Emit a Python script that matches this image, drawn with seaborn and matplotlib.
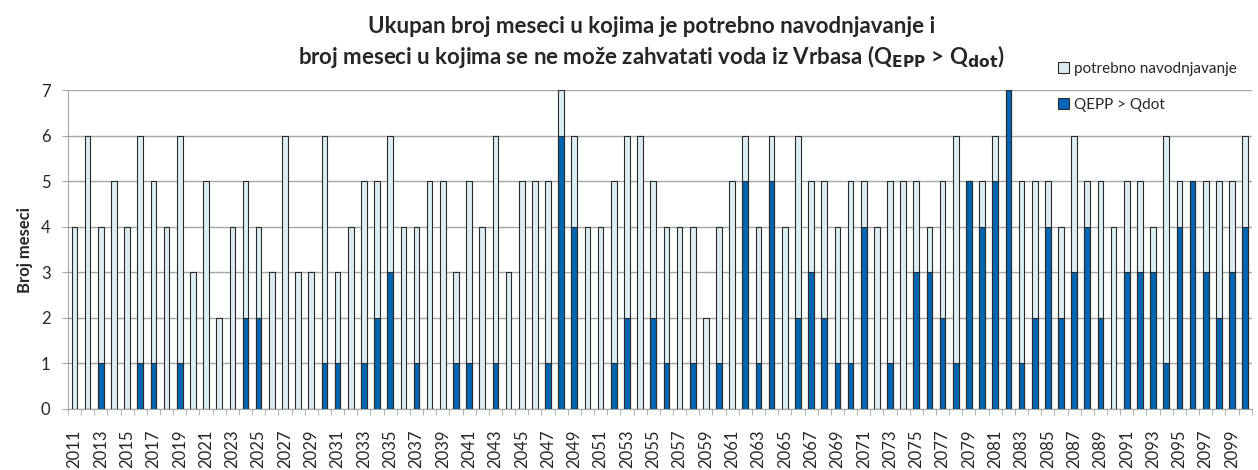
import pandas as pd
import seaborn as sns
import matplotlib.pyplot as plt
from matplotlib.patches import Patch
from matplotlib.ticker import FixedLocator

years = list(range(2011, 2101))

# ukupan broj meseci sa potrebom za navodnjavanjem
potrebno = [4, 6, 4, 5, 4, 6, 5, 4, 6, 3,
            5, 2, 4, 5, 4, 3, 6, 3, 3, 6,
            3, 4, 5, 5, 6, 4, 4, 5, 5, 3,
            5, 4, 6, 3, 5, 5, 5, 7, 6, 4,
            4, 5, 6, 6, 5, 4, 4, 4, 2, 4,
            5, 6, 4, 6, 4, 6, 5, 5, 4, 5,
            5, 4, 5, 5, 5, 4, 5, 6, 5, 5,
            6, 7, 5, 5, 5, 4, 6, 5, 5, 4,
            5, 5, 4, 6, 5, 5, 5, 5, 5, 6]

# broj meseci kada je QEPP > Qdot
qepp = [0, 0, 1, 0, 0, 1, 1, 0, 1, 0,
        0, 0, 0, 2, 2, 0, 0, 0, 0, 1,
        1, 0, 1, 2, 3, 0, 1, 0, 0, 1,
        1, 0, 1, 0, 0, 0, 1, 6, 4, 0,
        0, 1, 2, 0, 2, 1, 0, 1, 0, 1,
        0, 5, 1, 5, 0, 2, 3, 2, 1, 1,
        4, 0, 1, 0, 3, 3, 2, 1, 5, 4,
        5, 7, 1, 2, 4, 2, 3, 4, 2, 0,
        3, 3, 3, 1, 4, 5, 3, 2, 3, 4]

df = pd.DataFrame({'godina': [str(y) for y in years],
                   'potrebno': potrebno, 'qepp': qepp})

light = '#daeef4'
blue = '#0066b3'
edge = '#2a2a2a'

sns.set_style("white")
plt.rcParams['font.family'] = ['Lato', 'DejaVu Sans']

fig, ax = plt.subplots(figsize=(12.58, 4.70), dpi=100)
fig.subplots_adjust(left=0.054, right=0.995, top=0.808, bottom=0.13)

sns.barplot(data=df, x='godina', y='potrebno', color=light, width=0.43,
            edgecolor=edge, linewidth=0.8, saturation=1, ax=ax, zorder=2)
sns.barplot(data=df, x='godina', y='qepp', color=blue, width=0.43,
            edgecolor=edge, linewidth=0.8, saturation=1, ax=ax, zorder=3)

ax.set_ylim(0, 7)
ax.set_xlim(-0.5, len(years) - 0.5)
ax.set_yticks(range(0, 8))
ax.yaxis.grid(True, color='#a6a6a6', linewidth=1, zorder=0)
ax.set_axisbelow(True)

ax.xaxis.set_major_locator(FixedLocator(list(range(0, len(years), 2))))
ax.set_xticklabels([str(y) for y in years[::2]], rotation=90, fontsize=12)
ax.xaxis.set_minor_locator(FixedLocator([i - 0.5 for i in range(len(years) + 1)]))
ax.tick_params(axis='x', which='major', length=0, pad=15)
ax.tick_params(axis='x', which='minor', length=4.5, color='#a6a6a6', bottom=True)
ax.tick_params(axis='y', labelsize=12, length=4.5, color='#a6a6a6', left=True, pad=8)

for s in ['top', 'right']:
    ax.spines[s].set_visible(False)
for s in ['left', 'bottom']:
    ax.spines[s].set_color('#a6a6a6')

ax.set_xlabel('')
ax.set_ylabel('Broj meseci', fontsize=12, fontweight='bold', labelpad=6)

fig.text(0.518, 0.943, 'Ukupan broj meseci u kojima je potrebno navodnjavanje i',
         ha='center', va='center', fontsize=16, fontweight='bold')
fig.text(0.518, 0.88,
         r'broj meseci u kojima se ne može zahvatati voda iz Vrbasa (Q$_{\mathbf{EPP}}$ > Q$_{\mathbf{dot}}$)',
         ha='center', va='center', fontsize=16, fontweight='bold')

handles = [Patch(facecolor=light, edgecolor=edge, linewidth=0.8),
           Patch(facecolor=blue, edgecolor=edge, linewidth=0.8)]
ax.legend(handles, ['potrebno navodnjavanje', 'QEPP > Qdot'],
          loc='upper left', bbox_to_anchor=(0.836, 1.09), frameon=False,
          fontsize=11, labelspacing=1.45, handlelength=0.75, handleheight=0.75,
          handletextpad=0.3, borderpad=0, borderaxespad=0)

plt.savefig('out.png', dpi=100)
